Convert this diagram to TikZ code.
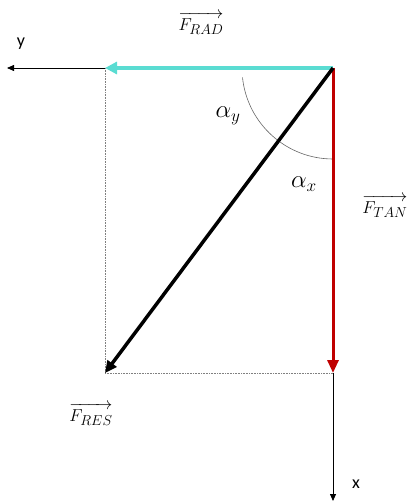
\documentclass[tikz,border=0pt]{standalone}
\usepackage{fontspec}
\usepackage{amsmath}
\DeclareMathSizes{19}{19}{15}{12}
\DeclareMathSizes{25}{25}{18}{14}
\newfontfamily\axisfont{Carlito}
\usetikzlibrary{arrows.meta}
\definecolor{radcol}{RGB}{90,220,210}
\definecolor{tancol}{RGB}{192,0,0}
\tikzset{
  axis/.style={line width=0.8pt, -{Triangle[length=7pt,width=6pt]}},
  guide/.style={line width=0.6pt, densely dotted, gray},
  lbl/.style={font=\fontsize{19}{23}\selectfont, inner sep=0pt},
  anglbl/.style={font=\fontsize{25}{30}\selectfont, inner sep=0pt},
  axlbl/.style={font=\axisfont\fontsize{18}{21}\selectfont, inner sep=0pt}
}
\begin{document}
\begin{tikzpicture}[x=1pt,y=-1pt]
\useasboundingbox (0,0) rectangle (408,503);
\coordinate (O) at (333,68);
\coordinate (R) at (105,68);
\coordinate (T) at (333,373);
\coordinate (S) at (105,373);
\coordinate (Y) at (7,68);
\coordinate (X) at (333,501);
% guides
\draw[guide] (R) -- (S);
\draw[guide] (S) -- (T);
% axes
\draw[axis] (R) -- (Y);
\draw[axis] (T) -- (X);
% arc
\draw[line width=0.6pt, gray!80!black] (O) ++(174:91) arc[start angle=174, end angle=90, radius=91];
% vectors
\draw[radcol, line width=4pt, -{Triangle[length=12pt,width=12pt]}] (O) -- (R);
\draw[tancol, line width=3pt, -{Triangle[length=13pt,width=11pt]}] (O) -- (T);
\draw[black, line width=3.5pt, -{Triangle[length=12pt,width=11pt]}] (O) -- (S);
% labels
\node[lbl] (frad) at (201,23) {$\overrightarrow{F_{RAD}}$};
\node[lbl] (ftan) at (385,206) {$\overrightarrow{F_{TAN}}$};
\node[lbl] (fres) at (91,414) {$\overrightarrow{F_{RES}}$};
\node[anglbl] (ay) at (228,116) {$\alpha_y$};
\node[anglbl] (ax) at (304,184) {$\alpha_x$};
\node[axlbl] (ylab) at (21,44) {y};
\node[axlbl] (xlab) at (356,484) {x};
\end{tikzpicture}
\end{document}
